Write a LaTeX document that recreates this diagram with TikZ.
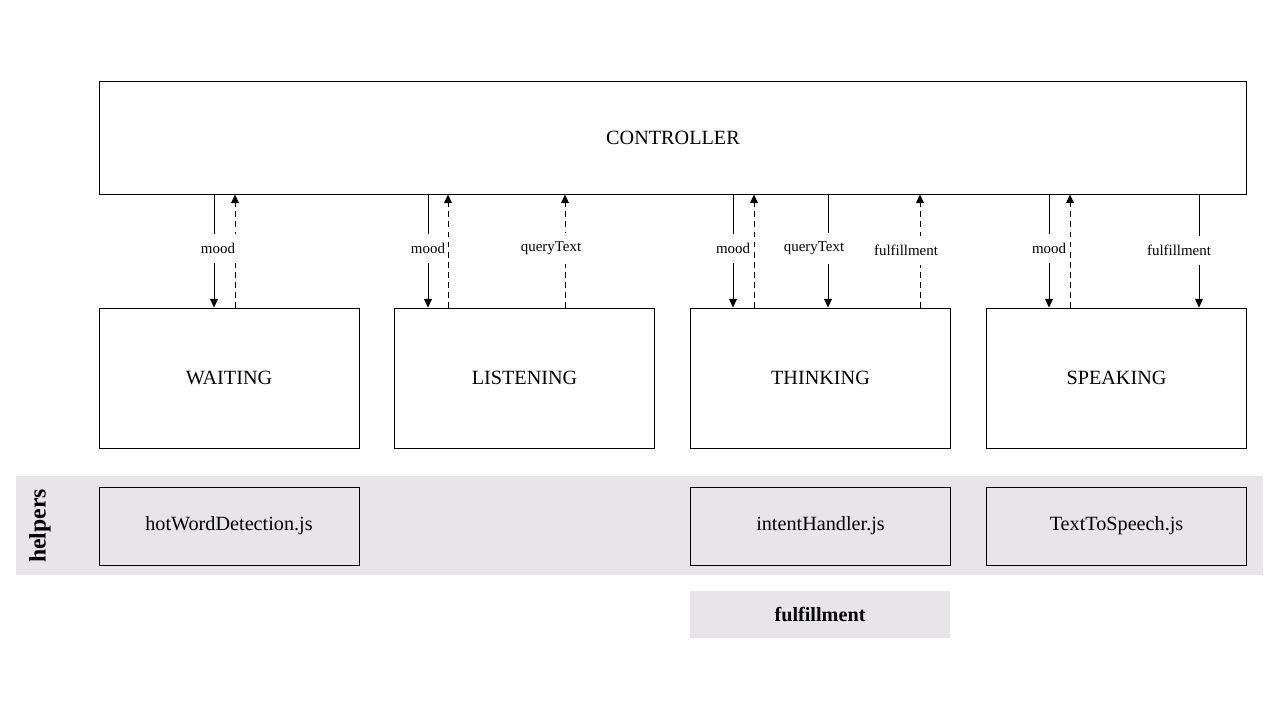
\documentclass[tikz,border=0pt]{standalone}
\usepackage{fontspec}
\setmainfont{Liberation Serif}
\usetikzlibrary{positioning, arrows.meta}
\definecolor{bandgray}{RGB}{231,229,231}

\begin{document}
\begin{tikzpicture}[
    x=0.02cm, y=-0.02cm,
    % Clean styles
    ctrlbox/.style={
        rectangle,
        draw=black,
        line width=0.5pt,
        fill=white,
        minimum width=22.96cm,
        minimum height=2.26cm,
        font=\fontsize{11.5}{14}\selectfont
    },
    statebox/.style={
        rectangle,
        draw=black,
        line width=0.5pt,
        fill=white,
        minimum width=5.2cm,
        minimum height=2.8cm,
        font=\fontsize{11.5}{14}\selectfont
    },
    helperbox/.style={
        rectangle,
        draw=black,
        line width=0.5pt,
        fill=bandgray,
        minimum width=5.2cm,
        minimum height=1.56cm,
        font=\fontsize{11.5}{14}\selectfont
    },
    extbox/.style={
        rectangle,
        fill=bandgray,
        minimum width=5.2cm,
        minimum height=0.94cm,
        font=\fontsize{11.5}{14}\selectfont\bfseries
    },
    down/.style={
        -{Triangle[length=5pt,width=4.5pt]},
        line width=0.5pt
    },
    up/.style={
        -{Triangle[length=5pt,width=4.5pt]},
        line width=0.5pt,
        dash pattern=on 3.4pt off 2.3pt
    },
    lbl/.style={
        fill=white,
        inner xsep=1pt,
        inner ysep=5pt,
        yshift=0.05cm,
        font=\fontsize{8.5}{10}\selectfont
    }
]
\useasboundingbox (0,0) rectangle (1280,720);

% === Helpers band ===
\fill[bandgray] (16,476) rectangle (1263,575);
\node[rotate=90, font=\fontsize{13.5}{16}\selectfont\bfseries] (helpers) at (40,526) {helpers};

% === Top: controller ===
\node[ctrlbox] (ctrl) at (673,137.5) {CONTROLLER};

% === Middle: states ===
\node[statebox] (waiting) at (229,378) {WAITING};
\node[statebox] (listening) at (524.5,378) {LISTENING};
\node[statebox] (thinking) at (820.5,378) {THINKING};
\node[statebox] (speaking) at (1116.5,378) {SPEAKING};

% === Bottom: helper scripts ===
\node[helperbox] (hotword) at (229,526) {hotWordDetection.js};
\node[helperbox] (intent) at (820.5,526) {intentHandler.js};
\node[helperbox] (tts) at (1116.5,526) {TextToSpeech.js};
\node[extbox] (fulfil) at (820,614.5) {fulfillment};

% === Arrows: WAITING ===
\draw[up] (waiting.north -| 235,0) -- (ctrl.south -| 235,0);
\draw[down] (ctrl.south -| 214,0) -- node[lbl, xshift=0.08cm] {mood} (waiting.north -| 214,0);

% === Arrows: LISTENING ===
\draw[up] (listening.north -| 448,0) -- (ctrl.south -| 448,0);
\draw[down] (ctrl.south -| 428,0) -- node[lbl] {mood} (listening.north -| 428,0);
\draw[up] (listening.north -| 565,0) -- node[lbl, xshift=-0.28cm] {queryText} (ctrl.south -| 565,0);

% === Arrows: THINKING ===
\draw[up] (thinking.north -| 754,0) -- (ctrl.south -| 754,0);
\draw[down] (ctrl.south -| 733,0) -- node[lbl] {mood} (thinking.north -| 733,0);
\draw[down] (ctrl.south -| 828,0) -- node[lbl, xshift=-0.28cm] {queryText} (thinking.north -| 828,0);
\draw[up] (thinking.north -| 920,0) -- node[lbl, xshift=-0.28cm, yshift=-0.04cm] {fulfillment} (ctrl.south -| 920,0);

% === Arrows: SPEAKING ===
\draw[up] (speaking.north -| 1070,0) -- (ctrl.south -| 1070,0);
\draw[down] (ctrl.south -| 1049,0) -- node[lbl] {mood} (speaking.north -| 1049,0);
\draw[down] (ctrl.south -| 1199,0) -- node[lbl, xshift=-0.4cm, yshift=-0.04cm] {fulfillment} (speaking.north -| 1199,0);

\end{tikzpicture}
\end{document}
